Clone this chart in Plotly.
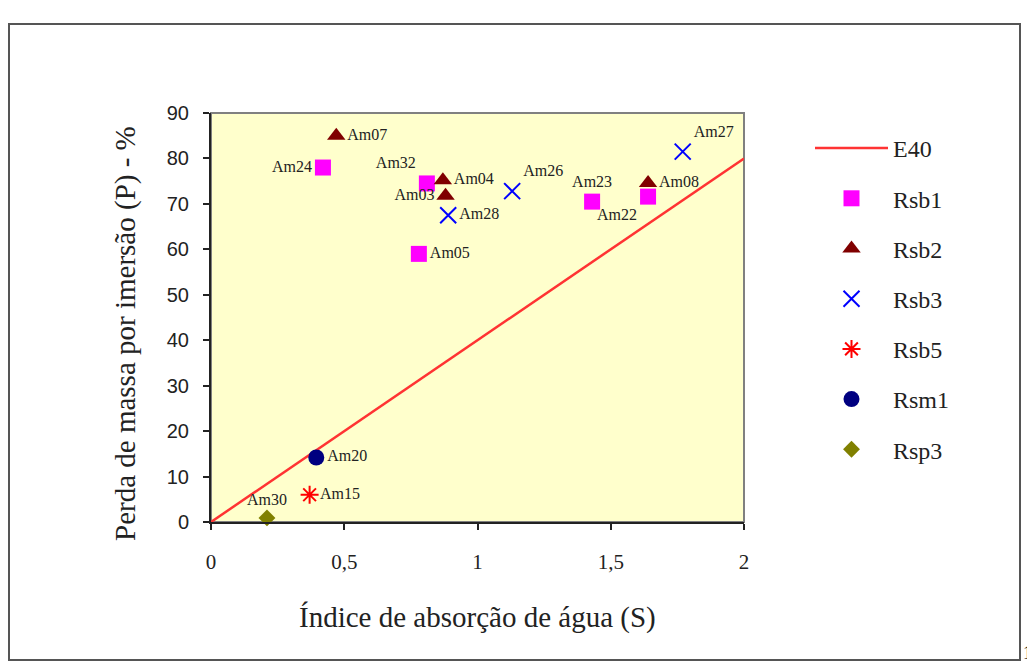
import plotly.graph_objects as go

# E40 reference line (P = 40 * S)
e40_x = [0, 2]
e40_y = [0, 80]

# series: (S, P, label)
rsb1_x = [0.42, 0.81, 0.78, 1.43, 1.64]
rsb1_y = [78.0, 74.5, 59.0, 70.5, 71.6]
rsb1_lbl = ['Am24', 'Am32', 'Am05', 'Am23', 'Am22']

rsb2_x = [0.47, 0.87, 0.88, 1.64]
rsb2_y = [85.0, 75.2, 71.8, 74.6]
rsb2_lbl = ['Am07', 'Am04', 'Am03', 'Am08']

rsb3_x = [0.89, 1.13, 1.77]
rsb3_y = [67.5, 72.8, 81.5]
rsb3_lbl = ['Am28', 'Am26', 'Am27']

rsb5_x = [0.37]
rsb5_y = [6.0]
rsb5_lbl = ['Am15']

rsm1_x = [0.395]
rsm1_y = [14.2]
rsm1_lbl = ['Am20']

rsp3_x = [0.21]
rsp3_y = [0.9]
rsp3_lbl = ['Am30']

x_ticks = [0, 0.5, 1, 1.5, 2]
y_ticks = list(range(0, 100, 10))

serif = 'Liberation Serif'
sans = 'Liberation Sans'
label_font = dict(family=serif, size=16, color='#222222')

# page size and plot area in page pixels
W, H = 1035, 662
L, R, T, B = 211, 744, 113, 522
BODY = 8  # default html body margin


def px(x):
    return (x - L) / (R - L)


def py(y):
    return (B - y) / (B - T)


fig = go.Figure()

fig.add_trace(go.Scatter(x=e40_x, y=e40_y, mode='lines', name='E40',
                         line=dict(color='#FF3333', width=2.5), legendgroup='a'))


def add_series(xs, ys, labels, name, symbol, color, size, positions, group, line_width=0):
    fig.add_trace(go.Scatter(
        x=xs, y=ys, text=labels, mode='markers+text', name=name,
        textposition=positions, textfont=label_font, cliponaxis=False,
        marker=dict(symbol=symbol, color=color, size=size,
                    line=dict(color=color, width=line_width)),
        legendgroup=group,
    ))


add_series(rsb1_x, rsb1_y, rsb1_lbl, 'Rsb1', 'square', '#FF00FF', 16,
           ['middle left', 'top left', 'middle right', 'top center', 'bottom left'], 'b')
add_series(rsb2_x, rsb2_y, rsb2_lbl, 'Rsb2', 'triangle-up', '#800000', 16,
           ['middle right', 'middle right', 'middle left', 'middle right'], 'c')
add_series(rsb3_x, rsb3_y, rsb3_lbl, 'Rsb3', 'x-thin-open', '#0000FF', 16,
           ['middle right', 'top right', 'top right'], 'd', line_width=2)
add_series(rsb5_x, rsb5_y, rsb5_lbl, 'Rsb5', 'asterisk-open', '#FF0000', 15,
           ['middle right'], 'e', line_width=2)
add_series(rsm1_x, rsm1_y, rsm1_lbl, 'Rsm1', 'circle', '#000080', 16,
           ['middle right'], 'f')
add_series(rsp3_x, rsp3_y, rsp3_lbl, 'Rsp3', 'diamond', '#808000', 13,
           ['top center'], 'g')

fig.update_xaxes(range=[0, 2], tickvals=x_ticks, ticks='outside', ticklen=6, tickwidth=1.5,
                 tickcolor='#222', showline=True, linecolor='#222', linewidth=2,
                 showgrid=False, zeroline=False, ticklabelstandoff=14,
                 tickfont=dict(family=serif, size=21, color='#222'))
fig.update_yaxes(range=[0, 90], tickvals=y_ticks, ticks='outside', ticklen=6, tickwidth=1.5,
                 tickcolor='#222', showline=True, linecolor='#222', linewidth=2,
                 showgrid=False, zeroline=False, ticklabelstandoff=10,
                 tickfont=dict(family=sans, size=20, color='#222'))

# outer frame and plot area border
fig.add_shape(type='rect', xref='paper', yref='paper',
              x0=px(9), x1=px(1020), y0=py(660), y1=py(24),
              line=dict(color='#555555', width=2), layer='below')
fig.add_shape(type='rect', xref='paper', yref='paper',
              x0=0, x1=1, y0=0, y1=1, line=dict(color='#808080', width=2), layer='below')

fig.add_annotation(text='Índice de absorção de água (S)', xref='paper', yref='paper',
                   x=px(477), y=py(617), xanchor='center', yanchor='middle', showarrow=False,
                   font=dict(family=serif, size=29, color='#222'))
fig.add_annotation(text='Perda de massa por imersão (P) - %', xref='paper', yref='paper',
                   x=px(125), y=py(334), xanchor='center', yanchor='middle', showarrow=False,
                   textangle=-90, font=dict(family=serif, size=29, color='#222'))
fig.add_annotation(text='1', xref='paper', yref='paper', x=px(1034), y=py(653),
                   xanchor='right', yanchor='middle', showarrow=False,
                   font=dict(family=serif, size=18, color='#222'))

fig.update_layout(
    width=W - BODY, height=H - BODY,
    margin=dict(l=L - BODY, r=W - R, t=T - BODY, b=H - B, pad=0),
    plot_bgcolor='#FFFFCC', paper_bgcolor='white',
    separators=',.',
    legend=dict(x=px(810), y=py(126), xanchor='left', yanchor='top',
                font=dict(family=serif, size=24, color='#222'),
                tracegroupgap=16, itemwidth=73, bgcolor='rgba(0,0,0,0)'),
)

fig.write_html('out.html')
